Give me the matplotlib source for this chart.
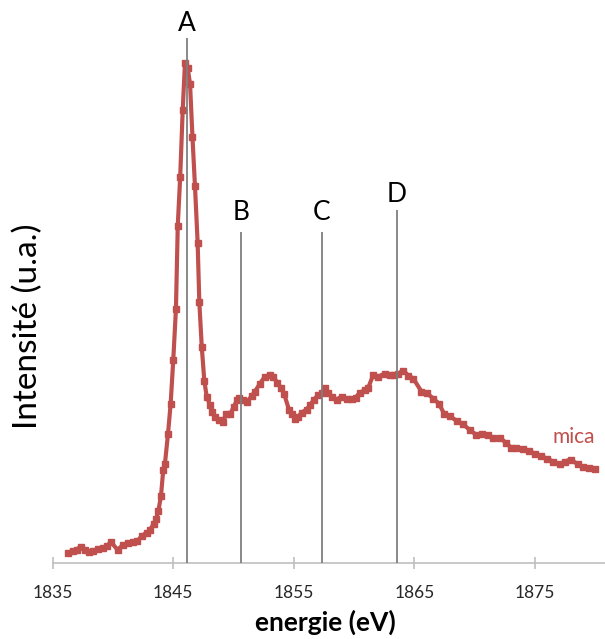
import matplotlib
matplotlib.use("Agg")
import matplotlib.pyplot as plt

energy = [1836.29, 1836.71, 1836.99, 1837.32, 1837.68, 1838.03, 1838.37, 1838.78, 1839.20, 1839.48,
          1839.83, 1840.39, 1840.80, 1841.27, 1841.68, 1842.01, 1842.38, 1842.79, 1843.07, 1843.36,
          1843.57, 1843.76, 1843.98, 1844.17, 1844.31, 1844.56, 1844.78, 1845.00, 1845.22, 1845.37,
          1845.57, 1845.78, 1845.97, 1846.20, 1846.39, 1846.59, 1846.80, 1847.02, 1847.16, 1847.36,
          1847.57, 1847.77, 1848.04, 1848.18, 1848.46, 1848.81, 1849.15, 1849.37, 1849.74, 1850.03,
          1850.28, 1850.47, 1850.80, 1851.14, 1851.50, 1851.77, 1852.19, 1852.60, 1853.02, 1853.29,
          1853.62, 1853.91, 1854.18, 1854.59, 1854.82, 1855.09, 1855.37, 1855.65, 1856.06, 1856.34,
          1856.67, 1857.02, 1857.31, 1857.58, 1857.85, 1858.13, 1858.55, 1858.96, 1859.38, 1859.79,
          1860.12, 1860.48, 1860.90, 1861.17, 1861.58, 1862.00, 1862.55, 1862.97, 1863.30, 1863.66,
          1864.07, 1864.49, 1864.90, 1865.58, 1866.01, 1866.56, 1867.02, 1867.45, 1867.94, 1868.50,
          1869.02, 1869.58, 1870.10, 1870.57, 1871.08, 1871.53, 1872.06, 1872.57, 1873.00, 1873.46,
          1874.00, 1874.49, 1874.99, 1875.51, 1875.96, 1876.51, 1877.07, 1877.48, 1877.94, 1878.52,
          1878.97, 1879.47, 1879.97]
intensity = [0.021, 0.025, 0.027, 0.033, 0.026, 0.023, 0.025, 0.028, 0.031, 0.034,
             0.042, 0.026, 0.036, 0.041, 0.042, 0.044, 0.054, 0.061, 0.066, 0.078,
             0.088, 0.104, 0.134, 0.187, 0.199, 0.258, 0.318, 0.407, 0.508, 0.674,
             0.771, 0.905, 1.001, 0.989, 0.958, 0.852, 0.753, 0.640, 0.521, 0.433,
             0.365, 0.333, 0.316, 0.303, 0.293, 0.286, 0.283, 0.299, 0.299, 0.313,
             0.326, 0.331, 0.327, 0.323, 0.334, 0.343, 0.359, 0.373, 0.376, 0.373,
             0.361, 0.351, 0.339, 0.307, 0.298, 0.288, 0.293, 0.301, 0.307, 0.316,
             0.327, 0.336, 0.341, 0.351, 0.341, 0.333, 0.327, 0.333, 0.329, 0.329,
             0.331, 0.341, 0.346, 0.351, 0.376, 0.373, 0.379, 0.376, 0.377, 0.379,
             0.385, 0.375, 0.369, 0.343, 0.340, 0.329, 0.319, 0.299, 0.294, 0.284,
             0.278, 0.266, 0.257, 0.259, 0.257, 0.250, 0.251, 0.241, 0.231, 0.230,
             0.229, 0.224, 0.219, 0.214, 0.209, 0.203, 0.198, 0.203, 0.207, 0.198,
             0.192, 0.191, 0.188]

line_labels = ["A", "B", "C", "D"]
line_energy = [1846.1, 1850.6, 1857.3, 1863.55]
line_top = [1.05, 0.662, 0.662, 0.706]
label_y = [1.078, 0.702, 0.702, 0.736]

xticks = [1835, 1845, 1855, 1865, 1875]
series_name = "mica"

red = "#C0504D"
font = ["Lato", "DejaVu Sans"]

fig = plt.figure(figsize=(6.05, 6.39), dpi=100)
ax = fig.add_axes([52.7 / 605, 76 / 639, 1 - 52.7 / 605, 563 / 639])
ax.set_xlim(1835, 1880.8)
ax.set_ylim(0, 1.126)

ax.plot(energy, intensity, color=red, lw=3.0, marker="s", ms=4.0,
        solid_joinstyle="round", zorder=2)

for lab, e, top, ly in zip(line_labels, line_energy, line_top, label_y):
    ax.vlines(e, 0, top, color="#7F7F7F", lw=1.3, zorder=3)
    ax.text(e, ly, lab, ha="center", va="center", fontsize=19, family=font, color="black")

ax.text(1880.0, 0.252, series_name, ha="right", va="center", fontsize=15,
        family=font, color=red)

for s in ["top", "right", "left"]:
    ax.spines[s].set_visible(False)
ax.spines["bottom"].set_color("#BFBFBF")
ax.spines["bottom"].set_linewidth(1.2)
ax.set_yticks([])
ax.set_xticks(xticks)
ax.set_xticklabels([str(t) for t in xticks], family=font, fontsize=12.5, color="#262626")
ax.tick_params(axis="x", direction="inout", length=9, width=1.2, color="#BFBFBF", pad=11)

fig.text(325 / 605, 1 - 622 / 639, "energie (eV)", ha="center", va="center",
         fontsize=19, fontweight="bold", family=font)
fig.text(28 / 605, 1 - 326 / 639, "Intensité (u.a.)", ha="center", va="center",
         rotation=90, fontsize=24, family=font)

fig.savefig("out.png", dpi=100)
